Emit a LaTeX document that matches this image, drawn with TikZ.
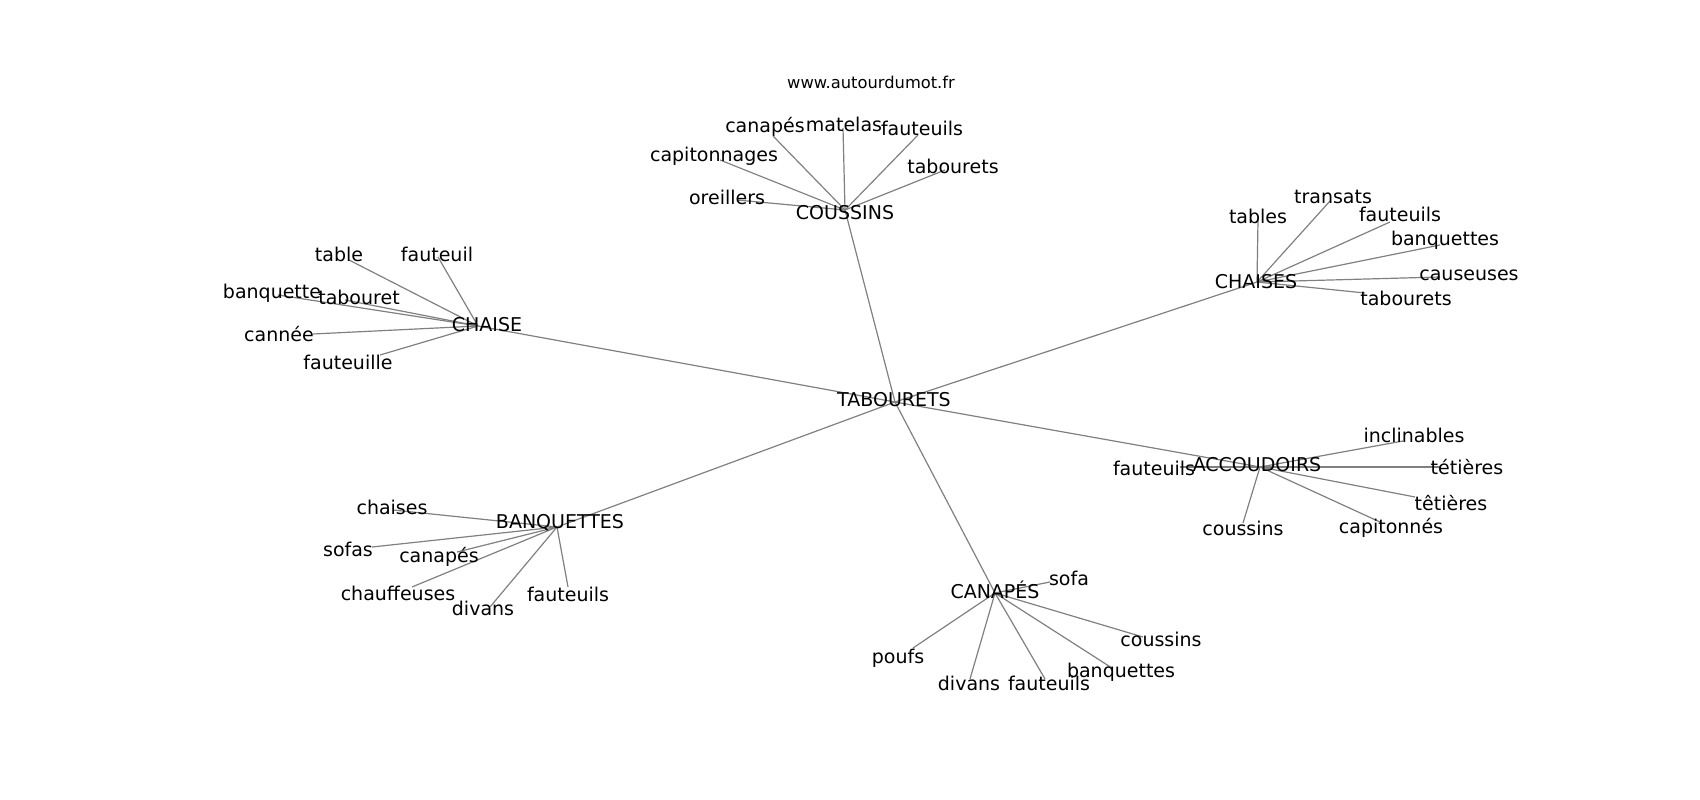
\documentclass[tikz,border=0pt]{standalone}
\usepackage{fontspec}
\setmainfont{DejaVu Sans}
\usepackage{tikz}
\usepackage{xcolor}
\usetikzlibrary{backgrounds}

% one word: end point of its line, then its label
\newcommand{\word}[4]{%
  \coordinate (#1) at (#2);
  \node[lbl] (#1-t) at (#3) {#4};}

\begin{document}
\begin{tikzpicture}[x=1pt,y=-1pt,
    lbl/.style={inner sep=0pt,font=\fontsize{19}{23}\selectfont},
    site/.style={inner sep=0pt,font=\fontsize{16.3}{20}\selectfont},
    edge/.style={draw=gray,line width=1.2pt}]
                \useasboundingbox (0,0) rectangle (1700,800);

                \node[site] (site) at (871,82) {www.autourdumot.fr};

                % hubs
                \word{tab}{895,402}{894,400}{TABOURETS}
                \word{cou}{845,210}{845,213}{COUSSINS}
                \word{cha}{478,326}{487,325}{CHAISE}
                \word{chs}{1257,282}{1256,282}{CHAISES}
                \word{acc}{1260,467}{1257,465}{ACCOUDOIRS}
                \word{ban}{557,527}{560,523}{BANQUETTES}
                \word{can}{995,593}{995,590}{CANAPÉS}

                % coussins
                \word{cou1}{773,136}{765,127}{canapés}
                \word{cou2}{843,128}{844,124}{matelas}
                \word{cou3}{918,135}{922,128}{fauteuils}
                \word{cou4}{945,170}{953,166}{tabourets}
                \word{cou5}{720,160}{714,156}{capitonnages}
                \word{cou6}{737,200}{727,197}{oreillers}

                % chaise
                \word{cha1}{349,260}{339,254}{table}
                \word{cha2}{438,257}{437,254}{fauteuil}
                \word{cha3}{278,295}{272,293}{banquette}
                \word{cha4}{345,300}{359,297}{tabouret}
                \word{cha5}{313,334}{279,334}{cannée}
                \word{cha6}{380,355}{348,362}{fauteuille}

                % chaises
                \word{chs1}{1258,220}{1258,216}{tables}
                \word{chs2}{1330,201}{1333,197}{transats}
                \word{chs3}{1390,222}{1400,214}{fauteuils}
                \word{chs4}{1440,245}{1445,240}{banquettes}
                \word{chs5}{1440,277}{1469,275}{causeuses}
                \word{chs6}{1365,293}{1406,298}{tabourets}

                % accoudoirs
                \word{acc1}{1180,467}{1154,468}{fauteuils}
                \word{acc2}{1243,523}{1243,528}{coussins}
                \word{acc3}{1403,441}{1414,435}{inclinables}
                \word{acc4}{1440,467}{1467,467}{tétières}
                \word{acc5}{1415,497}{1451,503}{têtières}
                \word{acc6}{1380,522}{1391,528}{capitonnés}

                % banquettes
                \word{ban1}{393,510}{392,507}{chaises}
                \word{ban2}{372,547}{348,549}{sofas}
                \word{ban3}{457,552}{439,557}{canapés}
                \word{ban4}{412,587}{398,593}{chauffeuses}
                \word{ban5}{490,607}{483,608}{divans}
                \word{ban6}{568,587}{568,594}{fauteuils}

                % canapes
                \word{can1}{1050,582}{1069,578}{sofa}
                \word{can2}{1143,637}{1161,639}{coussins}
                \word{can3}{913,648}{898,658}{poufs}
                \word{can4}{970,679}{969,683}{divans}
                \word{can5}{1045,679}{1049,683}{fauteuils}
                \word{can6}{1112,668}{1121,672}{banquettes}

                \begin{pgfonlayer}{background}
                \foreach \h in {cou,cha,chs,acc,ban,can}
                    \draw[edge] (tab) -- (\h);
                \foreach \h in {cou,cha,chs,acc,ban,can}
                    \foreach \i in {1,...,6}
                        \draw[edge] (\h) -- (\h\i);
                \end{pgfonlayer}
            \end{tikzpicture}
\end{document}
